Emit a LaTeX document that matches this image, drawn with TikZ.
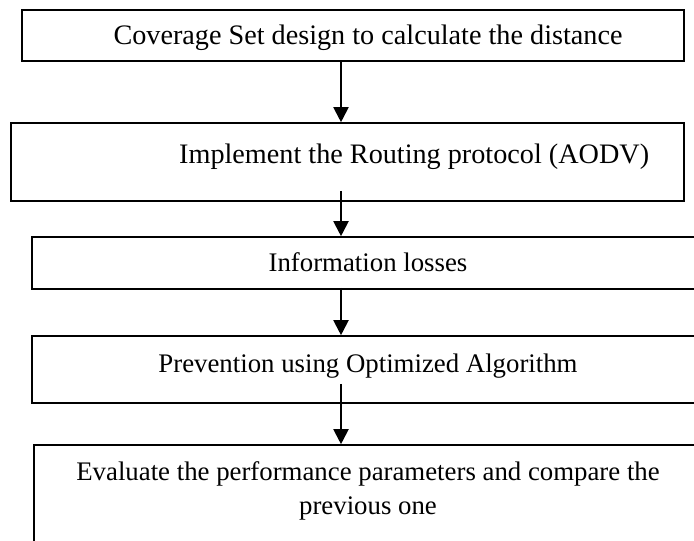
\documentclass[tikz,border=0pt]{standalone}
\usepackage{fontspec}
\setmainfont{Liberation Serif}
\usetikzlibrary{arrows.meta}
\begin{document}
\begin{tikzpicture}[x=1pt,y=-1pt,
  stepbox/.style={draw=black, line width=1.6pt, inner sep=0pt, rectangle},
  steptext/.style={inner sep=0pt, font=\fontsize{26.8}{34}\selectfont, align=center},
  bigtext/.style={steptext, font=\fontsize{28.2}{34}\selectfont},
  flowarrow/.style={draw=black, line width=2pt, -{Triangle[length=15pt,width=15pt]}}]
\useasboundingbox (0,0) rectangle (694,541);
\fill[white] (0,0) rectangle (694,541);
\clip (0,0) rectangle (694,541);
% boxes
\node[stepbox, minimum width=662pt, minimum height=51pt] (b1) at (353,35.5) {};
\node[stepbox, minimum width=673pt, minimum height=78pt] (b2) at (347.5,162) {};
\node[stepbox, minimum width=688pt, minimum height=52pt] (b3) at (376,263) {};
\node[stepbox, minimum width=688pt, minimum height=67pt] (b4) at (376,369.5) {};
\node[stepbox, minimum width=686pt, minimum height=155pt] (b5) at (377,522.5) {};
% texts
\node[bigtext, anchor=base] (t1) at (368,44) {Coverage Set design to calculate the distance};
\node[bigtext, anchor=base west] (t2) at (179,163) {Implement the Routing protocol (AODV)};
\node[steptext, anchor=base] (t3) at (368,271) {Information losses};
\node[steptext, anchor=base] (t4) at (368,372) {Prevention using Optimized Algorithm};
\node[steptext, anchor=center] (t5) at (368,491) {Evaluate the performance parameters and compare the\\previous one};
% connectors
\coordinate (ax) at (341,0);
\coordinate (s2) at ([yshift=11pt]b2.south);
\coordinate (s3) at ([yshift=2pt]b3.south);
\coordinate (s4) at ([yshift=20pt]b4.south);
\draw[flowarrow] (b1.south -| ax) -- (b2.north -| ax);
\draw[flowarrow] (s2 -| ax) -- (b3.north -| ax);
\draw[flowarrow] (s3 -| ax) -- (b4.north -| ax);
\draw[flowarrow] (s4 -| ax) -- (b5.north -| ax);
\end{tikzpicture}
\end{document}
